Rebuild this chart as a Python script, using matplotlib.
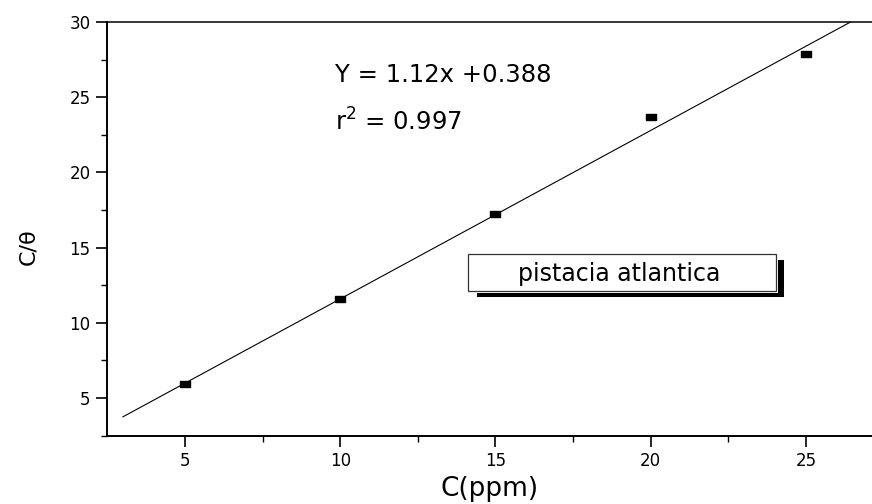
import matplotlib
matplotlib.use("Agg")
import matplotlib.pyplot as plt
from matplotlib.patches import Rectangle
import numpy as np

plt.rcParams['font.family'] = ['DejaVu Sans']

# Data
conc = [5, 10, 15, 20, 25]
c_theta = [5.9, 11.55, 17.25, 23.7, 27.85]
slope = 1.12
intercept = 0.388
fit_range = [3.0, 27.5]
eq_text = "Y = 1.12x +0.388"
r2_text = "r$^2$ = 0.997"
legend_label = "pistacia atlantica"
xticks = [5, 10, 15, 20, 25]
yticks = [5, 10, 15, 20, 25, 30]

fig = plt.figure(figsize=(8.72, 5.04), dpi=100)
ax = fig.add_axes([107.4/872, 1 - 435.6/504, (872 - 107.4)/872, (435.6 - 22)/504])

fx = np.array(fit_range)
ax.plot(fx, slope*fx + intercept, color='black', lw=0.8, zorder=2)

rect_marker = [(-1, -0.62), (1, -0.62), (1, 0.62), (-1, 0.62), (-1, -0.62)]
ax.plot(conc, c_theta, linestyle='none', marker=rect_marker, markersize=6.5,
        color='black', zorder=3)

ax.set_xlim(2.5, 27.13)
ax.set_ylim(2.5, 30)
ax.set_xticks(xticks)
ax.set_yticks(yticks)
ax.set_xticks(np.arange(7.5, 27.5, 5), minor=True)
ax.set_yticks(np.arange(2.5, 30, 5), minor=True)
ax.tick_params(axis='both', which='major', direction='out', length=8, width=1.2,
               labelsize=12, pad=4)
ax.tick_params(axis='both', which='minor', direction='out', length=4, width=1.0)

for s in ['left', 'bottom', 'top']:
    ax.spines[s].set_linewidth(1.4)
ax.spines['top'].set_linewidth(1.1)
ax.spines['right'].set_visible(False)

ax.set_xlabel("C(ppm)", fontsize=19, labelpad=4)
ax.set_ylabel("C/θ", fontsize=16)
ax.yaxis.set_label_coords(-0.09, 0.456)

ax.text(9.84, 26.03, eq_text, fontsize=17.5, ha='left', va='baseline')
ax.text(9.84, 22.78, r2_text, fontsize=17.5, ha='left', va='baseline')

# legend-like box with shadow
T = ax.transAxes
ax.add_patch(Rectangle((0.4830, 0.3351), 0.8851 - 0.4830, 0.4246 - 0.3351,
                       transform=T, facecolor='black', edgecolor='none', zorder=4))
ax.add_patch(Rectangle((0.4690, 0.3440), 0.8770 - 0.4690, 0.4400 - 0.3440,
                       transform=T, facecolor='white', edgecolor='none', zorder=5))
ax.add_patch(Rectangle((0.4716, 0.3496), 0.8744 - 0.4716, 0.4379 - 0.3496,
                       transform=T, facecolor='white', edgecolor='#333333', lw=0.9, zorder=6))
ax.text((0.4716 + 0.8744)/2 - 0.004, (0.3496 + 0.4379)/2 - 0.004, legend_label,
        transform=T, fontsize=17, ha='center', va='center', zorder=7)

fig.savefig("out.png", dpi=100)
